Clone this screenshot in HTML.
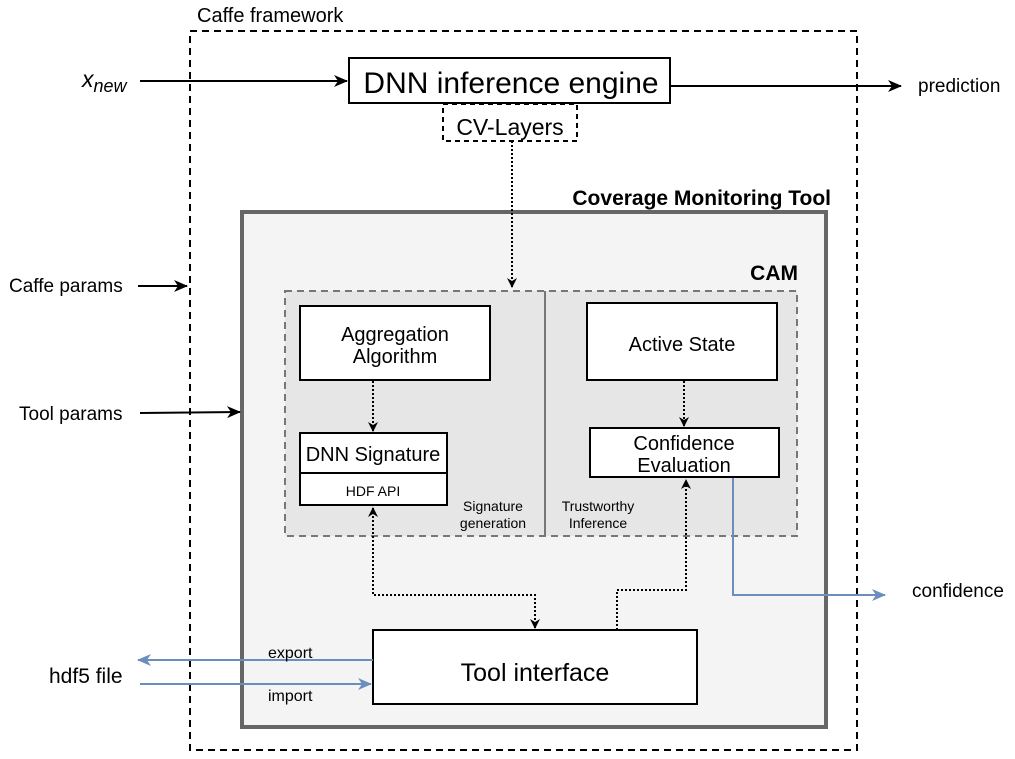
<!DOCTYPE html>
<html><head><style>body{margin:0;background:#fff}svg{display:block;font-family:"Liberation Sans",sans-serif}</style></head>
<body>
<svg width="1015" height="759" viewBox="0 0 1015 759">
<defs>
<marker id="a" markerWidth="14" markerHeight="12" refX="13" refY="6" orient="auto" markerUnits="userSpaceOnUse"><path d="M0,0 L14,6 L0,12 L4,6z" fill="#000"/></marker>
<marker id="c" markerWidth="10" markerHeight="10" refX="9" refY="5" orient="auto" markerUnits="userSpaceOnUse"><path d="M0,0 L10,5 L0,10 L3,5z" fill="#000"/></marker>
<marker id="b" markerWidth="14" markerHeight="12" refX="13" refY="6" orient="auto" markerUnits="userSpaceOnUse"><path d="M0,0 L14,6 L0,12 L4,6z" fill="#6c8ebf"/></marker>
<marker id="s" markerWidth="10" markerHeight="10" refX="1" refY="5" orient="auto" markerUnits="userSpaceOnUse"><path d="M10,0 L0,5 L10,10 L7,5z" fill="#000"/></marker>
</defs>
<rect x="190" y="31" width="667" height="719" fill="none" stroke="#000" stroke-width="2" stroke-dasharray="7,5"/>
<text x="197" y="22" font-size="20">Caffe framework</text>
<text x="82" y="87" font-size="23" font-style="italic">x<tspan font-size="18" dy="5">new</tspan></text>
<line x1="140" y1="81" x2="347" y2="81" stroke="#000" stroke-width="2" marker-end="url(#a)"/>
<rect x="349" y="58" width="321" height="45" fill="#fff" stroke="#000" stroke-width="2"/>
<text x="511" y="93" font-size="30" text-anchor="middle">DNN inference engine</text>
<line x1="670" y1="86" x2="901" y2="86" stroke="#000" stroke-width="2" marker-end="url(#a)"/>
<text x="918" y="92" font-size="19">prediction</text>
<rect x="443" y="104" width="134" height="37" fill="#fff" stroke="#000" stroke-width="2" stroke-dasharray="5,4"/>
<text x="510" y="135" font-size="23" text-anchor="middle">CV-Layers</text>
<text x="9" y="292" font-size="19">Caffe params</text>
<line x1="138" y1="286" x2="187" y2="286" stroke="#000" stroke-width="2" marker-end="url(#a)"/>
<rect x="242" y="212" width="584" height="515" fill="#f4f4f4" stroke="#666" stroke-width="4"/>
<text x="831" y="205" font-size="21" font-weight="bold" text-anchor="end">Coverage Monitoring Tool</text>
<text x="19" y="420" font-size="19">Tool params</text>
<line x1="140" y1="413" x2="240" y2="412" stroke="#000" stroke-width="2" marker-end="url(#a)"/>
<text x="798" y="280" font-size="21" font-weight="bold" text-anchor="end">CAM</text>
<rect x="285" y="291" width="512" height="245" fill="#e6e6e6" stroke="#777" stroke-width="2" stroke-dasharray="7,5"/>
<line x1="545" y1="291" x2="545" y2="536" stroke="#777" stroke-width="2"/>
<line x1="512" y1="141" x2="512" y2="287" stroke="#000" stroke-width="2" stroke-dasharray="2,2" marker-end="url(#c)"/>
<rect x="300" y="306" width="190" height="74" fill="#fff" stroke="#000" stroke-width="2"/>
<text x="395" y="341" font-size="20" text-anchor="middle">Aggregation</text>
<text x="395" y="363" font-size="20" text-anchor="middle">Algorithm</text>
<line x1="373" y1="381" x2="373" y2="431" stroke="#000" stroke-width="2" stroke-dasharray="2,2" marker-end="url(#c)"/>
<rect x="300" y="433" width="147" height="72" fill="#fff" stroke="#000" stroke-width="2"/>
<line x1="300" y1="473" x2="447" y2="473" stroke="#000" stroke-width="2"/>
<text x="373" y="461" font-size="20" text-anchor="middle">DNN Signature</text>
<text x="373" y="496" font-size="14" text-anchor="middle">HDF API</text>
<text x="493" y="511" font-size="14" text-anchor="middle">Signature</text>
<text x="493" y="528" font-size="14" text-anchor="middle">generation</text>
<text x="598" y="511" font-size="14" text-anchor="middle">Trustworthy</text>
<text x="598" y="528" font-size="14" text-anchor="middle">Inference</text>
<rect x="587" y="303" width="190" height="77" fill="#fff" stroke="#000" stroke-width="2"/>
<text x="682" y="351" font-size="20" text-anchor="middle">Active State</text>
<line x1="684" y1="381" x2="684" y2="426" stroke="#000" stroke-width="2" stroke-dasharray="2,2" marker-end="url(#c)"/>
<rect x="590" y="428" width="189" height="49" fill="#fff" stroke="#000" stroke-width="2"/>
<text x="684" y="450" font-size="20" text-anchor="middle">Confidence</text>
<text x="684" y="472" font-size="20" text-anchor="middle">Evaluation</text>
<polyline points="373,508 373,595 535,595 535,628" fill="none" stroke="#000" stroke-width="2" stroke-dasharray="2,2" marker-start="url(#s)" marker-end="url(#c)"/>
<polyline points="617,630 617,590 686,590 686,480" fill="none" stroke="#000" stroke-width="2" stroke-dasharray="2,2" marker-end="url(#c)"/>
<polyline points="733,478 733,595 885,595" fill="none" stroke="#6c8ebf" stroke-width="2" marker-end="url(#b)"/>
<text x="912" y="597" font-size="19">confidence</text>
<rect x="373" y="630" width="324" height="74" fill="#fff" stroke="#000" stroke-width="2"/>
<text x="535" y="681" font-size="25" text-anchor="middle">Tool interface</text>
<line x1="373" y1="660" x2="138" y2="660" stroke="#6c8ebf" stroke-width="2" marker-end="url(#b)"/>
<line x1="140" y1="684" x2="371" y2="684" stroke="#6c8ebf" stroke-width="2" marker-end="url(#b)"/>
<text x="268" y="658" font-size="16">export</text>
<text x="268" y="701" font-size="16">import</text>
<text x="49" y="683" font-size="21">hdf5 file</text>
</svg>
</body></html>
